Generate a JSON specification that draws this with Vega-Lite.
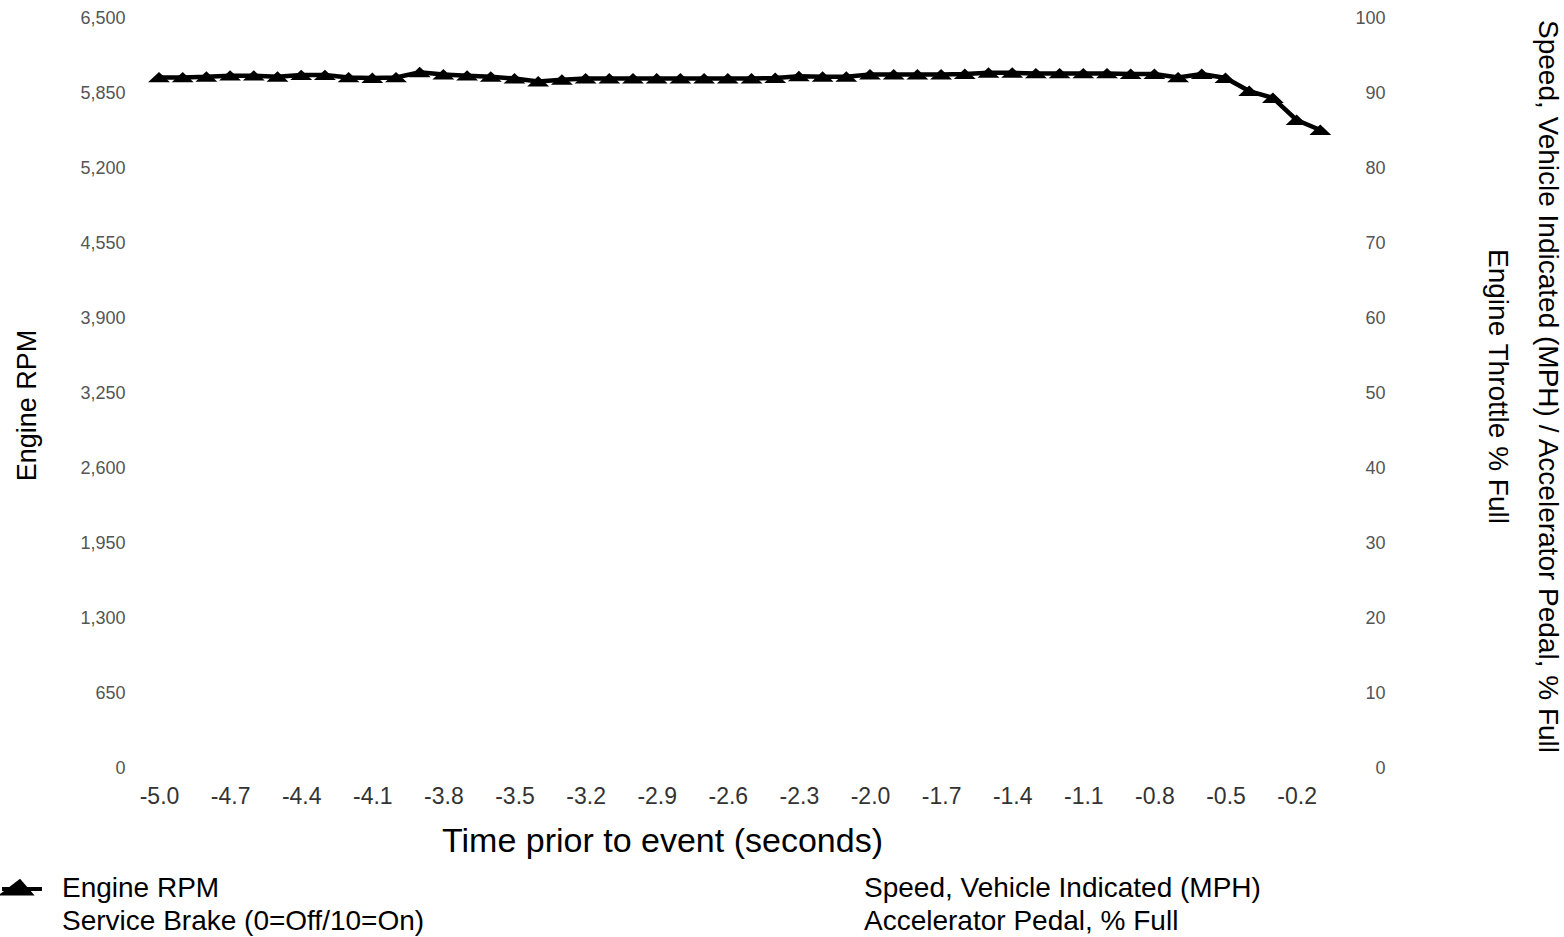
{
  "$schema": "https://vega.github.io/schema/vega-lite/v6.json",
  "width": 1185,
  "height": 750,
  "autosize": {"type": "none"},
  "padding": {"left": 159, "top": 18, "right": 220, "bottom": 169},
  "background": "white",
  "config": {"view": {"stroke": null}, "font": "Liberation Sans"},
  "data": {"values": [
    {"t": -5.0, "series": "Engine RPM", "value": 5985},
    {"t": -4.9, "series": "Engine RPM", "value": 5985},
    {"t": -4.8, "series": "Engine RPM", "value": 5990},
    {"t": -4.7, "series": "Engine RPM", "value": 6000},
    {"t": -4.6, "series": "Engine RPM", "value": 6000},
    {"t": -4.5, "series": "Engine RPM", "value": 5990},
    {"t": -4.4, "series": "Engine RPM", "value": 6005},
    {"t": -4.3, "series": "Engine RPM", "value": 6005},
    {"t": -4.2, "series": "Engine RPM", "value": 5985},
    {"t": -4.1, "series": "Engine RPM", "value": 5980},
    {"t": -4.0, "series": "Engine RPM", "value": 5985},
    {"t": -3.9, "series": "Engine RPM", "value": 6030},
    {"t": -3.8, "series": "Engine RPM", "value": 6010},
    {"t": -3.7, "series": "Engine RPM", "value": 6000},
    {"t": -3.6, "series": "Engine RPM", "value": 5990},
    {"t": -3.5, "series": "Engine RPM", "value": 5975},
    {"t": -3.4, "series": "Engine RPM", "value": 5950},
    {"t": -3.3, "series": "Engine RPM", "value": 5965},
    {"t": -3.2, "series": "Engine RPM", "value": 5975},
    {"t": -3.1, "series": "Engine RPM", "value": 5975},
    {"t": -3.0, "series": "Engine RPM", "value": 5975},
    {"t": -2.9, "series": "Engine RPM", "value": 5975},
    {"t": -2.8, "series": "Engine RPM", "value": 5975},
    {"t": -2.7, "series": "Engine RPM", "value": 5975},
    {"t": -2.6, "series": "Engine RPM", "value": 5975},
    {"t": -2.5, "series": "Engine RPM", "value": 5975},
    {"t": -2.4, "series": "Engine RPM", "value": 5980},
    {"t": -2.3, "series": "Engine RPM", "value": 5995},
    {"t": -2.2, "series": "Engine RPM", "value": 5990},
    {"t": -2.1, "series": "Engine RPM", "value": 5990},
    {"t": -2.0, "series": "Engine RPM", "value": 6010},
    {"t": -1.9, "series": "Engine RPM", "value": 6010},
    {"t": -1.8, "series": "Engine RPM", "value": 6010},
    {"t": -1.7, "series": "Engine RPM", "value": 6010},
    {"t": -1.6, "series": "Engine RPM", "value": 6015},
    {"t": -1.5, "series": "Engine RPM", "value": 6025},
    {"t": -1.4, "series": "Engine RPM", "value": 6025},
    {"t": -1.3, "series": "Engine RPM", "value": 6020},
    {"t": -1.2, "series": "Engine RPM", "value": 6020},
    {"t": -1.1, "series": "Engine RPM", "value": 6020},
    {"t": -1.0, "series": "Engine RPM", "value": 6020},
    {"t": -0.9, "series": "Engine RPM", "value": 6015},
    {"t": -0.8, "series": "Engine RPM", "value": 6015},
    {"t": -0.7, "series": "Engine RPM", "value": 5985},
    {"t": -0.6, "series": "Engine RPM", "value": 6015},
    {"t": -0.5, "series": "Engine RPM", "value": 5980},
    {"t": -0.4, "series": "Engine RPM", "value": 5867},
    {"t": -0.3, "series": "Engine RPM", "value": 5807},
    {"t": -0.2, "series": "Engine RPM", "value": 5616},
    {"t": -0.1, "series": "Engine RPM", "value": 5529}
  ]},
  "layer": [
    {
      "mark": {
        "type": "line",
        "strokeWidth": 4.5,
        "point": {"filled": true, "shape": "M-1,0.45L0,-0.5L1,0.45Z", "size": 480}
      },
      "encoding": {
        "x": {
          "field": "t",
          "type": "quantitative",
          "scale": {"domain": [-5, 0], "nice": false, "zero": false},
          "axis": {
            "values": [-5.0, -4.7, -4.4, -4.1, -3.8, -3.5, -3.2, -2.9, -2.6, -2.3, -2.0, -1.7, -1.4, -1.1, -0.8, -0.5, -0.2],
            "format": ".1f",
            "labelExpr": "replace(datum.label, '\u2212', '-')",
            "title": "Time prior to event (seconds)",
            "grid": false,
            "domain": false,
            "ticks": false,
            "tickSize": 0,
            "labelPadding": 17,
            "labelFontSize": 23,
            "labelColor": "#333333",
            "labelFlush": false,
            "labelOverlap": false,
            "titleFontSize": 34,
            "titleFontWeight": "normal",
            "titleColor": "#000000",
            "titleX": 503,
            "titleY": 73,
            "titleBaseline": "middle",
            "titleAlign": "center"
          }
        },
        "y": {
          "field": "value",
          "type": "quantitative",
          "scale": {"domain": [0, 6500], "nice": false},
          "axis": {
            "values": [0, 650, 1300, 1950, 2600, 3250, 3900, 4550, 5200, 5850, 6500],
            "format": ",.0f",
            "title": "Engine RPM",
            "grid": false,
            "domain": false,
            "ticks": false,
            "tickSize": 0,
            "labelPadding": 34,
            "labelFontSize": 18,
            "labelColor": "#555555",
            "labelOverlap": false,
            "titleFontSize": 27,
            "titleFontWeight": "normal",
            "titleColor": "#000000",
            "titleX": -132,
            "titleY": 387,
            "titleAngle": 270,
            "titleBaseline": "middle",
            "titleAlign": "center"
          }
        },
        "color": {
          "field": "series",
          "type": "nominal",
          "scale": {
            "domain": ["Engine RPM", "Service Brake (0=Off/10=On)", "Speed, Vehicle Indicated (MPH)", "Accelerator Pedal, % Full"],
            "range": ["#000000", "#ffffff", "#ffffff", "#ffffff"]
          },
          "legend": {
            "title": null,
            "orient": "none",
            "legendX": -154,
            "legendY": 854,
            "columns": 2,
            "columnPadding": 371,
            "rowPadding": 2,
            "padding": 0,
            "symbolType": "M-1.33,0H1.33M-1.2,0.3L-0.15,-0.5L0.55,0.3Z",
            "symbolSize": 900,
            "symbolStrokeWidth": 4,
            "labelFontSize": 28,
            "labelFont": "Liberation Sans",
            "labelColor": "#000000",
            "labelOffset": 23,
            "labelLimit": 800,
            "encode": {
              "symbols": {
                "update": {
                  "fill": {"scale": "color", "field": "value"},
                  "stroke": {"scale": "color", "field": "value"}
                }
              }
            }
          }
        }
      }
    },
    {
      "data": {"values": [{}]},
      "mark": {"type": "rule", "opacity": 0},
      "encoding": {
        "y": {
          "datum": 0,
          "type": "quantitative",
          "scale": {"domain": [0, 100], "nice": false},
          "axis": {
            "orient": "right",
            "values": [0, 10, 20, 30, 40, 50, 60, 70, 80, 90, 100],
            "title": ["Speed, Vehicle Indicated (MPH) / Accelerator Pedal, % Full", "Engine Throttle % Full"],
            "grid": false,
            "domain": false,
            "ticks": false,
            "tickSize": 0,
            "labelAlign": "right",
            "labelPadding": 41,
            "labelFontSize": 18,
            "labelColor": "#555555",
            "labelOverlap": false,
            "titleFontSize": 28,
            "titleFontWeight": "normal",
            "titleColor": "#000000",
            "titleX": 202,
            "titleY": 368,
            "titleAngle": 90,
            "titleBaseline": "middle",
            "titleAlign": "center",
            "titleLineHeight": 50
          }
        }
      }
    }
  ],
  "resolve": {"scale": {"y": "independent"}}
}
